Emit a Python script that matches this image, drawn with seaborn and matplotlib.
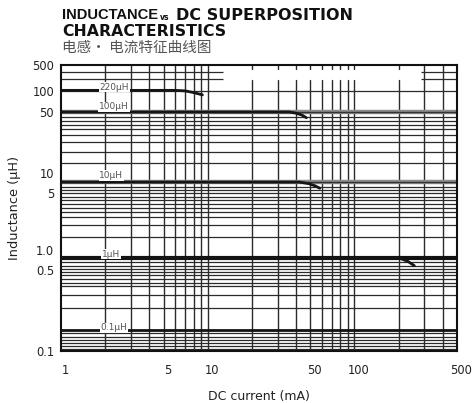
import numpy as np
import pandas as pd
import matplotlib
matplotlib.use("Agg")
import matplotlib.pyplot as plt
from matplotlib.transforms import ScaledTranslation
import seaborn as sns

# ---------------- data ----------------
coil_names = ["220µH", "100µH", "10µH", "1µH", "0.1µH"]
current_220 = [1, 6, 7, 8, 9.2]
induct_220 = [104, 104, 101, 95, 88]
current_100 = [1, 36, 40, 44, 47]
induct_100 = [50, 50, 48.5, 46, 43]
current_10 = [1, 42, 49, 54, 58]
induct_10 = [7.3, 7.3, 6.9, 6.4, 5.9]
current_1 = [1, 200, 230, 256]
induct_1 = [0.76, 0.76, 0.68, 0.58]
current_01 = [1, 500]
induct_01 = [0.152, 0.152]

x_tick_values = [1, 5, 10, 50, 100, 500]
x_tick_labels = ["1", "5", "10", "50", "100", "500"]
y_tick_values = [0.1, 0.5, 1, 5, 10, 50, 100, 500]
y_tick_labels = ["0.1", "0.5", "1.0", "5", "10", "50", "100", "500"]

grid_x_full = [2, 3, 4, 5, 6, 7, 8, 9, 10, 300, 400]
grid_x_broken = [20, 30, 40, 50, 60, 70, 80, 90, 100, 200]
grid_y = [100, 50, 43.8, 39.5, 35.5, 31.9, 27.2, 22.6, 17.4, 13.0,
          7.3, 6.15, 5.55, 5.0, 4.47, 4.10, 3.67, 3.27, 2.92, 2.54, 2.03, 1.44,
          0.76, 0.66, 0.574, 0.518, 0.481, 0.453, 0.418, 0.386, 0.364, 0.304,
          0.235, 0.152, 0.143, 0.132, 0.124, 0.117, 0.110, 0.104]
grid_y_partial = [324, 210]
heavy_grid_y = [50, 7.3, 0.76]

# ---------------- axis calibration (as printed on the chart) ----------------
_YL = np.log10(np.array(y_tick_values, float))
_YP = np.array([0, 81, 101, 158, 178, 239, 260, 286], float)


def _fwd(v):
    v = np.asarray(v, float)
    lv = np.log10(np.clip(v, 1e-12, None))
    out = np.interp(lv, _YL, _YP)
    s0 = (_YP[1] - _YP[0]) / (_YL[1] - _YL[0])
    s1 = (_YP[-1] - _YP[-2]) / (_YL[-1] - _YL[-2])
    out = np.where(lv < _YL[0], _YP[0] + (lv - _YL[0]) * s0, out)
    out = np.where(lv > _YL[-1], _YP[-1] + (lv - _YL[-1]) * s1, out)
    return out


def _inv(p):
    p = np.asarray(p, float)
    lv = np.interp(p, _YP, _YL)
    s0 = (_YL[1] - _YL[0]) / (_YP[1] - _YP[0])
    s1 = (_YL[-1] - _YL[-2]) / (_YP[-1] - _YP[-2])
    lv = np.where(p < _YP[0], _YL[0] + (p - _YP[0]) * s0, lv)
    lv = np.where(p > _YP[-1], _YL[-1] + (p - _YP[-1]) * s1, lv)
    return 10 ** lv


# ---------------- build frame ----------------
series = [(coil_names[0], current_220, induct_220),
          (coil_names[1], current_100, induct_100),
          (coil_names[2], current_10, induct_10),
          (coil_names[3], current_1, induct_1),
          (coil_names[4], current_01, induct_01)]
rows = []
for name, xs, ys in series:
    for xv, yv in zip(xs, ys):
        rows.append({"coil": name, "current": xv, "L": yv})
df = pd.DataFrame(rows)

sns.set_theme(style="white")
plt.rcParams["font.family"] = ["DejaVu Sans"]

fig = plt.figure(figsize=(4.72, 4.03), dpi=100)
ax = fig.add_axes([61 / 472, 1 - 351 / 403, 396 / 472, 286 / 403])
ax.set_xscale("log")
ax.set_yscale("function", functions=(_fwd, _inv))
ax.set_xlim(1, 500)
ax.set_ylim(0.1, 500)

grid_col = "#2b2b2b"
for gx in grid_x_full:
    ax.axvline(gx, color=grid_col, lw=1.0, zorder=1)
for gx in grid_x_broken:
    ax.axvline(gx, ymin=0, ymax=0.948, color=grid_col, lw=1.0, zorder=1)
    ax.axvline(gx, ymin=0.986, ymax=1, color=grid_col, lw=1.0, zorder=1)
for gy in grid_y:
    ax.axhline(gy, color=grid_col, lw=0.9, zorder=1)
for gy in grid_y_partial:
    ax.hlines(gy, 1, 12.8, color=grid_col, lw=0.9, zorder=1)
    ax.hlines(gy, 285, 500, color=grid_col, lw=0.9, zorder=1)
for gy in heavy_grid_y[:2]:
    ax.axhline(gy, color="#8c8c8c", lw=3.2, zorder=1.5)
    ax.axhline(gy, color="#333333", lw=1.0, zorder=1.6)
ax.axhline(heavy_grid_y[2], color="#111111", lw=3.0, zorder=1.6)

sns.lineplot(data=df, x="current", y="L", units="coil", estimator=None,
             sort=False, color="#151515", lw=2.0, ax=ax, legend=False,
             zorder=3)

# coil labels
lab_kw = dict(ha="center", va="center", fontsize=6.5, color="#555555",
              family="DejaVu Sans", zorder=4,
              bbox=dict(facecolor="white", edgecolor="none", pad=0.5))
ax.text(2.3, 128, coil_names[0], **lab_kw)
ax.text(2.3, 59, coil_names[1], **lab_kw)
ax.text(2.2, 9.2, coil_names[2], **lab_kw)
ax.text(2.2, 0.87, coil_names[3], **lab_kw)
ax.text(2.3, 0.158, coil_names[4], **lab_kw)

ax.set_xticks(x_tick_values, x_tick_labels)
ax.set_yticks(y_tick_values, y_tick_labels)
ax.xaxis.set_minor_locator(matplotlib.ticker.NullLocator())
ax.yaxis.set_minor_locator(matplotlib.ticker.NullLocator())
ax.tick_params(axis="both", length=0, labelsize=8.3, colors="#222222")
ax.tick_params(axis="x", pad=9)
ax.tick_params(axis="y", pad=5)
for lab in ax.get_xticklabels():
    lab.set_transform(lab.get_transform()
                      + ScaledTranslation(4 / 100, 0, fig.dpi_scale_trans))
ax.grid(False)
ax.set_xlabel("DC current (mA)", fontsize=9, color="#222222", labelpad=10)
ax.set_ylabel("Inductance (µH)", fontsize=9.3, color="#222222", labelpad=8)
for sp in ax.spines.values():
    sp.set_visible(True)
    sp.set_color("#111111")
    sp.set_linewidth(1.5)

# titles
fig.text(62 / 472, 1 - 15 / 403, "INDUCTANCE", fontsize=10.6,
         fontweight="bold", family="Liberation Sans", va="center",
         ha="left", color="#111111")
fig.text(160 / 472, 1 - 17 / 403, "vs", fontsize=5.5, fontweight="bold",
         va="center", ha="left", color="#111111")
fig.text(176 / 472, 1 - 15 / 403, "DC SUPERPOSITION", fontsize=11.5,
         fontweight="bold", va="center", ha="left", color="#111111")
fig.text(62 / 472, 1 - 32 / 403, "CHARACTERISTICS", fontsize=11.3,
         fontweight="bold", va="center", ha="left", color="#111111")
fig.text(62 / 472, 1 - 48 / 403, "电感· 电流特征曲线图", fontsize=10.5,
         family=["Noto Sans CJK SC", "DejaVu Sans"], va="center", ha="left",
         color="#555555")

fig.savefig("out.png", dpi=100)
